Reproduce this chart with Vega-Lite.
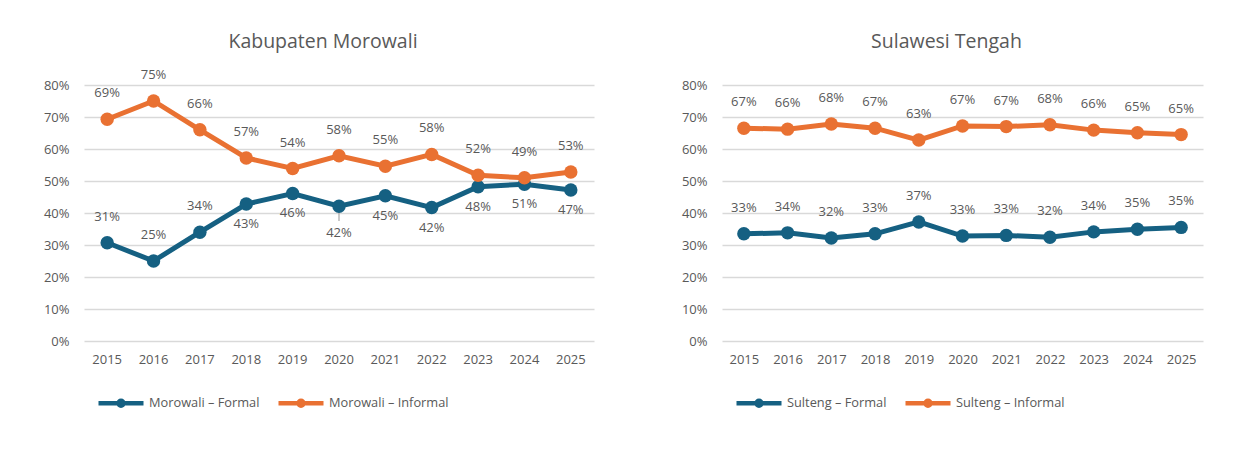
{
  "$schema": "https://vega.github.io/schema/vega-lite/v6.json",
  "background": "white",
  "padding": {"left": 43, "top": 31, "right": 5, "bottom": 5},
  "config": {
    "font": "Open Sans",
    "view": {"stroke": null},
    "axis": {"labelColor": "#595959", "labelFontSize": 13, "domain": false, "ticks": false, "title": null},
    "title": {"fontSize": 19.5, "fontWeight": "normal", "color": "#595959", "anchor": "middle"},
    "legend": {
      "orient": "none", "direction": "horizontal", "title": null,
      "symbolType": "M-1,0H1M-0.111,0A0.111,0.111 0 1,0 0.111,0A0.111,0.111 0 1,0 -0.111,0",
      "symbolSize": 2025, "symbolStrokeWidth": 4.5,
      "labelFontSize": 12.8, "labelColor": "#595959", "columnPadding": 9, "labelOffset": 3
    }
  },
  "datasets": {
    "d": [
      {"region": "Morowali", "series": "Morowali – Formal", "year": 2015, "value": 0.307, "label": "31%"},
      {"region": "Morowali", "series": "Morowali – Formal", "year": 2016, "value": 0.25, "label": "25%"},
      {"region": "Morowali", "series": "Morowali – Formal", "year": 2017, "value": 0.34, "label": "34%"},
      {"region": "Morowali", "series": "Morowali – Formal", "year": 2018, "value": 0.428, "label": "43%"},
      {"region": "Morowali", "series": "Morowali – Formal", "year": 2019, "value": 0.461, "label": "46%"},
      {"region": "Morowali", "series": "Morowali – Formal", "year": 2020, "value": 0.421, "label": "42%"},
      {"region": "Morowali", "series": "Morowali – Formal", "year": 2021, "value": 0.454, "label": "45%"},
      {"region": "Morowali", "series": "Morowali – Formal", "year": 2022, "value": 0.417, "label": "42%"},
      {"region": "Morowali", "series": "Morowali – Formal", "year": 2023, "value": 0.482, "label": "48%"},
      {"region": "Morowali", "series": "Morowali – Formal", "year": 2024, "value": 0.49, "label": "51%"},
      {"region": "Morowali", "series": "Morowali – Formal", "year": 2025, "value": 0.472, "label": "47%"},
      {"region": "Morowali", "series": "Morowali – Informal", "year": 2015, "value": 0.693, "label": "69%"},
      {"region": "Morowali", "series": "Morowali – Informal", "year": 2016, "value": 0.75, "label": "75%"},
      {"region": "Morowali", "series": "Morowali – Informal", "year": 2017, "value": 0.66, "label": "66%"},
      {"region": "Morowali", "series": "Morowali – Informal", "year": 2018, "value": 0.572, "label": "57%"},
      {"region": "Morowali", "series": "Morowali – Informal", "year": 2019, "value": 0.539, "label": "54%"},
      {"region": "Morowali", "series": "Morowali – Informal", "year": 2020, "value": 0.579, "label": "58%"},
      {"region": "Morowali", "series": "Morowali – Informal", "year": 2021, "value": 0.546, "label": "55%"},
      {"region": "Morowali", "series": "Morowali – Informal", "year": 2022, "value": 0.583, "label": "58%"},
      {"region": "Morowali", "series": "Morowali – Informal", "year": 2023, "value": 0.518, "label": "52%"},
      {"region": "Morowali", "series": "Morowali – Informal", "year": 2024, "value": 0.51, "label": "49%"},
      {"region": "Morowali", "series": "Morowali – Informal", "year": 2025, "value": 0.528, "label": "53%"},
      {"region": "Sulteng", "series": "Sulteng – Formal", "year": 2015, "value": 0.335, "label": "33%"},
      {"region": "Sulteng", "series": "Sulteng – Formal", "year": 2016, "value": 0.338, "label": "34%"},
      {"region": "Sulteng", "series": "Sulteng – Formal", "year": 2017, "value": 0.322, "label": "32%"},
      {"region": "Sulteng", "series": "Sulteng – Formal", "year": 2018, "value": 0.335, "label": "33%"},
      {"region": "Sulteng", "series": "Sulteng – Formal", "year": 2019, "value": 0.372, "label": "37%"},
      {"region": "Sulteng", "series": "Sulteng – Formal", "year": 2020, "value": 0.328, "label": "33%"},
      {"region": "Sulteng", "series": "Sulteng – Formal", "year": 2021, "value": 0.33, "label": "33%"},
      {"region": "Sulteng", "series": "Sulteng – Formal", "year": 2022, "value": 0.324, "label": "32%"},
      {"region": "Sulteng", "series": "Sulteng – Formal", "year": 2023, "value": 0.341, "label": "34%"},
      {"region": "Sulteng", "series": "Sulteng – Formal", "year": 2024, "value": 0.349, "label": "35%"},
      {"region": "Sulteng", "series": "Sulteng – Formal", "year": 2025, "value": 0.355, "label": "35%"},
      {"region": "Sulteng", "series": "Sulteng – Informal", "year": 2015, "value": 0.665, "label": "67%"},
      {"region": "Sulteng", "series": "Sulteng – Informal", "year": 2016, "value": 0.662, "label": "66%"},
      {"region": "Sulteng", "series": "Sulteng – Informal", "year": 2017, "value": 0.678, "label": "68%"},
      {"region": "Sulteng", "series": "Sulteng – Informal", "year": 2018, "value": 0.665, "label": "67%"},
      {"region": "Sulteng", "series": "Sulteng – Informal", "year": 2019, "value": 0.628, "label": "63%"},
      {"region": "Sulteng", "series": "Sulteng – Informal", "year": 2020, "value": 0.672, "label": "67%"},
      {"region": "Sulteng", "series": "Sulteng – Informal", "year": 2021, "value": 0.67, "label": "67%"},
      {"region": "Sulteng", "series": "Sulteng – Informal", "year": 2022, "value": 0.676, "label": "68%"},
      {"region": "Sulteng", "series": "Sulteng – Informal", "year": 2023, "value": 0.659, "label": "66%"},
      {"region": "Sulteng", "series": "Sulteng – Informal", "year": 2024, "value": 0.651, "label": "65%"},
      {"region": "Sulteng", "series": "Sulteng – Informal", "year": 2025, "value": 0.645, "label": "65%"}
    ]
  },
  "spacing": 87,
  "resolve": {"scale": {"color": "independent"}, "legend": {"color": "independent"}},
  "hconcat": [
    {
      "title": {"text": "Kabupaten Morowali", "dx": -16, "offset": 17},
      "width": 510, "height": 256,
      "data": {"name": "d"},
      "transform": [{"filter": "datum.region == 'Morowali'"}],
      "encoding": {
        "x": {"field": "year", "type": "ordinal", "axis": {"labelAngle": 0, "labelPadding": 12, "grid": false}},
        "y": {"field": "value", "type": "quantitative", "scale": {"domain": [0, 0.8]},
              "axis": {"format": ".0%", "values": [0, 0.1, 0.2, 0.3, 0.4, 0.5, 0.6, 0.7, 0.8], "grid": true, "gridColor": "#d9d9d9", "gridWidth": 1.5, "labelPadding": 15}},
        "color": {"field": "series", "type": "nominal", "scale": {"domain": ["Morowali – Formal", "Morowali – Informal"], "range": ["#156082", "#E97132"]},
                  "legend": {"legendX": 12, "legendY": 293}}
      },
      "layer": [
        {"transform": [{"filter": "datum.series == 'Morowali – Formal' && datum.year == 2020"}],
         "mark": {"type": "rule", "color": "#a6a6a6", "strokeWidth": 1.2},
         "encoding": {"y2": {"datum": 0.375}, "color": {"value": "#a6a6a6"}}},
        {"mark": {"type": "line", "strokeWidth": 5}},
        {"mark": {"type": "point", "filled": true, "size": 180, "opacity": 1}},
        {"transform": [{"filter": "!(datum.series == 'Morowali – Formal' && datum.year >= 2018)"}],
         "mark": {"type": "text", "dy": -26, "fontSize": 13, "color": "#595959"},
         "encoding": {"text": {"field": "label"}, "color": {"value": "#595959"}}},
        {"transform": [{"filter": "datum.series == 'Morowali – Formal' && datum.year >= 2018 && datum.year != 2020"}],
         "mark": {"type": "text", "dy": 20, "fontSize": 13, "color": "#595959"},
         "encoding": {"text": {"field": "label"}, "color": {"value": "#595959"}}},
        {"transform": [{"filter": "datum.series == 'Morowali – Formal' && datum.year == 2020"}],
         "mark": {"type": "text", "dy": 27, "fontSize": 13, "color": "#595959"},
         "encoding": {"text": {"field": "label"}, "color": {"value": "#595959"}}}
      ]
    },
    {
      "title": {"text": "Sulawesi Tengah", "dx": -16, "offset": 27},
      "width": 481, "height": 256,
      "data": {"name": "d"},
      "transform": [{"filter": "datum.region == 'Sulteng'"}],
      "encoding": {
        "x": {"field": "year", "type": "ordinal", "axis": {"labelAngle": 0, "labelPadding": 12, "grid": false}},
        "y": {"field": "value", "type": "quantitative", "scale": {"domain": [0, 0.8]},
              "axis": {"format": ".0%", "values": [0, 0.1, 0.2, 0.3, 0.4, 0.5, 0.6, 0.7, 0.8], "grid": true, "gridColor": "#d9d9d9", "gridWidth": 1.5, "labelPadding": 15}},
        "color": {"field": "series", "type": "nominal", "scale": {"domain": ["Sulteng – Formal", "Sulteng – Informal"], "range": ["#156082", "#E97132"]},
                  "legend": {"legendX": 12, "legendY": 293}}
      },
      "layer": [
        {"mark": {"type": "line", "strokeWidth": 5}},
        {"mark": {"type": "point", "filled": true, "size": 180, "opacity": 1}},
        {"mark": {"type": "text", "dy": -26, "fontSize": 13, "color": "#595959"},
         "encoding": {"text": {"field": "label"}, "color": {"value": "#595959"}}}
      ]
    }
  ]
}
